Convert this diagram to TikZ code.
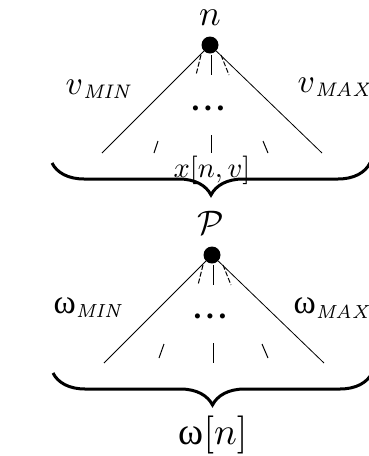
\documentclass[tikz,border=0pt]{standalone}
\usepackage{graphicx}
\usepackage{fontspec}
\newfontfamily\grk{Liberation Serif}
\usetikzlibrary{decorations.pathreplacing}
\newcommand{\bigw}{{\grk\fontsize{12.5}{14}\selectfont ω}}
\newcommand{\tridots}{{\grk\bfseries\fontsize{12}{14}\selectfont .\kern1.8pt.\kern1.8pt.}}
\begin{document}
\begin{tikzpicture}[x=1pt,y=-1pt,
  thinline/.style={line width=0.8pt},
  stub/.style={line width=1pt},
  dotnode/.style={circle,fill=black,inner sep=0pt,minimum size=17pt},
  lbl/.style={inner sep=0pt,scale=2.8},
  wlbl/.style={inner sep=0pt,scale=2.7},
  dotslbl/.style={inner sep=0pt,scale=2.6},
  bigbrace/.style={decorate,decoration={brace,mirror,amplitude=32pt},line width=3pt}]
\useasboundingbox (0,0) rectangle (369,456);
% ---------- upper tree ----------
\node[dotnode] (d1) at (210,45) {};
\node[inner sep=0pt,scale=3.6] (n) at (210,18) {$n$};
\node[lbl,anchor=west] (vmin) at (65,89) {$\scalebox{1.2}{$v$}_{\mathit{MIN}}$};
\node[lbl,anchor=west] (vmax) at (297,87) {$\scalebox{1.2}{$v$}_{\mathit{MAX}}$};
\node[dotslbl] (dots1) at (208,108) {\tridots};
\coordinate (l1) at (102,153);
\coordinate (r1) at (322,153);
\draw[thinline] (d1) -- (l1);
\draw[thinline] (d1) -- (r1);
\coordinate (a1) at (201,55); \coordinate (a2) at (196,75);
\coordinate (b1) at (211,55); \coordinate (b2) at (211,75);
\coordinate (c1) at (221,55); \coordinate (c2) at (229,75);
\draw[stub,dash pattern=on 5pt off 2pt] (a1) -- (a2);
\draw[stub] (b1) -- (b2);
\draw[stub,dash pattern=on 5pt off 2pt] (c1) -- (c2);
\coordinate (e1) at (158,141); \coordinate (e2) at (154,153);
\coordinate (f1) at (211,135); \coordinate (f2) at (211,153);
\coordinate (g1) at (263,141); \coordinate (g2) at (268,153);
\draw[stub] (e1) -- (e2);
\draw[stub] (f1) -- (f2);
\draw[stub] (g1) -- (g2);
\coordinate (bl1) at (52,163);
\coordinate (br1) at (370,163);
\draw[bigbrace] (bl1) -- (br1);
\node[inner sep=0pt,scale=2.85] (xnv) at (212,170) {$x[n,v]$};
% ---------- lower tree ----------
\node[inner sep=0pt,scale=3.4] (P) at (211,223) {$\mathcal{P}$};
\node[dotnode] (d2) at (212,255) {};
\node[wlbl,anchor=west] (wmin) at (53,308) {\bigw$_{\mathit{MIN}}$};
\node[wlbl,anchor=west] (wmax) at (293,308) {\bigw$_{\mathit{MAX}}$};
\node[dotslbl] (dots2) at (210,316) {\tridots};
\coordinate (l2) at (104,363);
\coordinate (r2) at (324,363);
\draw[thinline] (d2) -- (l2);
\draw[thinline] (d2) -- (r2);
\coordinate (h1) at (203,265); \coordinate (h2) at (198,285);
\coordinate (i1) at (213,265); \coordinate (i2) at (213,285);
\coordinate (j1) at (223,265); \coordinate (j2) at (231,285);
\draw[stub,dash pattern=on 5pt off 2pt] (h1) -- (h2);
\draw[stub] (i1) -- (i2);
\draw[stub,dash pattern=on 5pt off 2pt] (j1) -- (j2);
\coordinate (k1) at (164,344); \coordinate (k2) at (159,358);
\coordinate (m1) at (213,343); \coordinate (m2) at (213,363);
\coordinate (o1) at (262,344); \coordinate (o2) at (268,358);
\draw[stub] (k1) -- (k2);
\draw[stub] (m1) -- (m2);
\draw[stub] (o1) -- (o2);
\coordinate (bl2) at (53,373);
\coordinate (br2) at (372,373);
\draw[bigbrace] (bl2) -- (br2);
\node[inner sep=0pt,scale=3.8] (wn) at (213,435) {{\grk ω}$[n]$};
\end{tikzpicture}
\end{document}
